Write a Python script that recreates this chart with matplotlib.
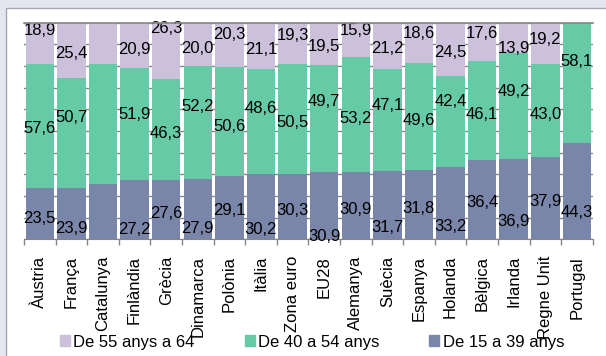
import numpy as np
import matplotlib.pyplot as plt
from matplotlib.patches import Rectangle

plt.rcParams['font.family'] = ['Liberation Sans', 'DejaVu Sans']

paisos = ['Àustria', 'França', 'Catalunya', 'Finlàndia', 'Grècia', 'Dinamarca',
          'Polònia', 'Itàlia', 'Zona euro', 'EU28', 'Alemanya', 'Suècia',
          'Espanya', 'Holanda', 'Bèlgica', 'Irlanda', 'Regne Unit', 'Portugal']

# % ocupats per grup d'edat
de15a39 = [23.5, 23.9, 25.7, 27.2, 27.6, 27.9, 29.1, 30.2, 30.3, 30.9,
           30.9, 31.7, 31.8, 33.2, 36.4, 36.9, 37.9, 44.3]
de40a54 = [57.6, 50.7, 55.2, 51.9, 46.3, 52.2, 50.6, 48.6, 50.5, 49.7,
           53.2, 47.1, 49.6, 42.4, 46.1, 49.2, 43.0, 58.1]
de55a64 = [18.9, 25.4, 19.1, 20.9, 26.3, 20.0, 20.3, 21.1, 19.3, 19.5,
           15.9, 21.2, 18.6, 24.5, 17.6, 13.9, 19.2, 0.0]

# quines etiquetes surten (Catalunya sense, Portugal sense el tram 55-64)
amb_etiqueta_15 = [True] * 2 + [False] + [True] * 15
amb_etiqueta_40 = [True] * 2 + [False] + [True] * 15
amb_etiqueta_55 = [True] * 2 + [False] + [True] * 14 + [False]

# posicio vertical (%) de les etiquetes, com estan al grafic original
pos_15 = [9.7, 5.1, 0, 4.3, 12.0, 5.1, 13.5, 4.3, 13.5, 1.5,
          13.9, 5.4, 14.3, 6.1, 16.9, 8.1, 17.4, 12.3]
pos_40 = [51.2, 56.3, 0, 57.4, 48.9, 61.2, 52.3, 60.5, 53.8, 63.5,
          55.9, 62.0, 54.8, 63.5, 57.7, 68.1, 57.7, 82.3]
pos_55 = [96.3, 85.9, 0, 87.7, 97.4, 88.2, 94.6, 87.7, 93.9, 88.9,
          96.2, 88.2, 95.1, 86.1, 94.8, 88.2, 92.3, 0]

c_lila = '#CCC1DB'
c_verd = '#66CAA6'
c_blau = '#7A86A9'
c_gris = '#868686'

fig = plt.figure(figsize=(6.06, 3.56), dpi=100, facecolor='#E4E7EF')
fons = fig.add_axes([0, 0, 1, 1], zorder=-5)
fons.set_xlim(0, 606)
fons.set_ylim(356, 0)
fons.axis('off')
fons.add_patch(Rectangle((5.5, 7.5), 620, 360, facecolor='white',
                         edgecolor='#A3A6AE', linewidth=1.0))

ax = fig.add_axes([24 / 606, 1 - 239.3 / 356, 568.7 / 606, 216.6 / 356])
ax.set_facecolor('none')

x = np.arange(len(paisos))
b15 = np.array(de15a39)
b40 = np.array(de40a54)
b55 = np.array(de55a64)

ax.bar(x, b15, width=0.9, color=c_blau, zorder=2)
ax.bar(x, b40, width=0.9, bottom=b15, color=c_verd, zorder=2)
ax.bar(x, b55, width=0.9, bottom=b15 + b40, color=c_lila, zorder=2)

def fmt(v):
    return f'{v:.1f}'.replace('.', ',')

for i in range(len(paisos)):
    if amb_etiqueta_15[i]:
        ax.text(x[i], pos_15[i], fmt(de15a39[i]), ha='center', va='center', fontsize=12, zorder=3)
    if amb_etiqueta_40[i]:
        ax.text(x[i], pos_40[i], fmt(de40a54[i]), ha='center', va='center', fontsize=12, zorder=3)
    if amb_etiqueta_55[i]:
        ax.text(x[i], pos_55[i], fmt(de55a64[i]), ha='center', va='center', fontsize=12, zorder=3)

ax.set_xlim(-0.5, len(paisos) - 0.5)
ax.set_ylim(0, 100)
ax.set_yticks(range(0, 101, 10))
ax.yaxis.grid(True, color=c_gris, linewidth=1.0, zorder=1)
ax.tick_params(axis='y', length=0, labelleft=False)

ax.set_xticks(x)
ax.set_xticklabels(paisos, rotation=90, fontsize=12)
ax.tick_params(axis='x', which='major', length=0, pad=12)
ax.set_xticks(np.arange(len(paisos) + 1) - 0.5, minor=True)
ax.tick_params(axis='x', which='minor', length=4, width=1, color=c_gris)

for s in ['left', 'right']:
    ax.spines[s].set_visible(False)
ax.spines['bottom'].set_color(c_gris)
ax.spines['top'].set_color(c_gris)
ax.spines['top'].set_linewidth(1.2)
ax.spines['top'].set_zorder(4)

handles = [Rectangle((0, 0), 1, 1, color=c) for c in (c_lila, c_verd, c_blau)]
fig.legend(handles, ['De 55 anys a 64', 'De 40 a 54 anys', 'De 15 a 39 anys'],
           loc='center', bbox_to_anchor=(0.515, 1 - 342 / 356), ncol=3,
           frameon=False, fontsize=12, handlelength=0.6, handleheight=0.6,
           handletextpad=0.2, columnspacing=3.0)

fig.savefig('out.png', dpi=100, facecolor=fig.get_facecolor())
